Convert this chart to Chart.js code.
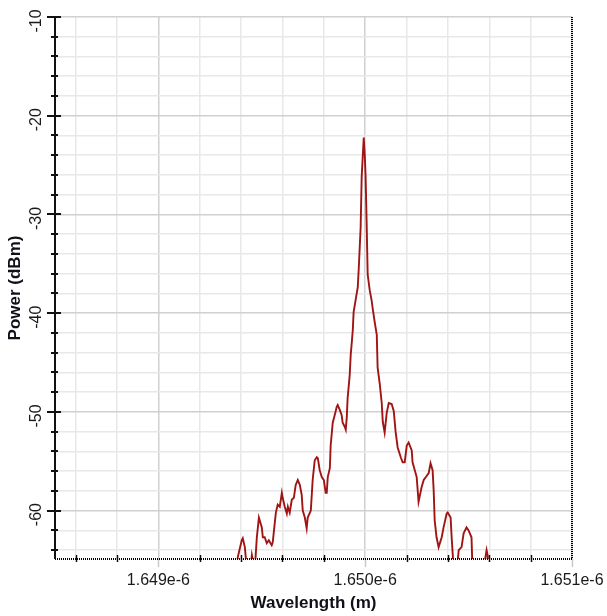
<!DOCTYPE html>
<html><head><meta charset="utf-8">
<script src="https://cdn.jsdelivr.net/npm/chart.js@4.4.1/dist/chart.umd.min.js"></script>
<style>html,body{margin:0;padding:0;background:#fff}#wrap{width:607px;height:616px}</style>
</head><body><div id="wrap"><canvas id="c" width="607" height="616"></canvas></div>
<script>
// Wavelength in nm (axis shows metres, e.g. 1.650e-6 m = 1650 nm)
const wavelengthNm = [
 1649.379,1649.384,1649.403,1649.408,1649.418,1649.428,1649.442,1649.452,1649.466,1649.476,
 1649.486,1649.500,1649.505,1649.514,1649.524,1649.534,1649.548,1649.553,1649.568,1649.577,
 1649.587,1649.597,1649.601,1649.611,1649.621,1649.626,1649.635,1649.645,1649.655,1649.664,
 1649.674,1649.684,1649.693,1649.698,1649.708,1649.717,1649.722,1649.737,1649.746,1649.756,
 1649.766,1649.771,1649.780,1649.790,1649.800,1649.809,1649.814,1649.819,1649.829,1649.833,
 1649.843,1649.853,1649.862,1649.867,1649.877,1649.886,1649.891,1649.901,1649.906,1649.911,
 1649.915,1649.925,1649.930,1649.935,1649.940,1649.944,1649.959,1649.964,1649.969,1649.978,
 1649.983,1649.993,1649.998,1650.002,1650.007,1650.012,1650.022,1650.031,1650.036,1650.046,
 1650.056,1650.060,1650.070,1650.080,1650.085,1650.094,1650.104,1650.114,1650.128,1650.138,
 1650.147,1650.157,1650.172,1650.181,1650.191,1650.201,1650.210,1650.225,1650.229,1650.249,
 1650.258,1650.273,1650.283,1650.297,1650.307,1650.316,1650.326,1650.331,1650.336,1650.345,
 1650.355,1650.370,1650.379,1650.394,1650.399,1650.413,1650.418,1650.428,1650.442,1650.452,
 1650.466,1650.476,1650.490,1650.500,1650.514,1650.519,1650.543,1650.568,1650.587,1650.592,
 1650.597
];
const powerDbm = [
 -66.0,-64.7,-63.0,-62.8,-63.7,-66.0,-66.5,-64.5,-66.0,-62.7,
 -60.7,-61.7,-62.7,-62.7,-63.3,-63.0,-63.5,-63.2,-60.2,-59.4,
 -59.6,-58.2,-58.7,-59.6,-60.3,-59.6,-60.2,-58.9,-58.7,-57.4,
 -56.9,-57.4,-58.4,-60.0,-60.7,-61.8,-60.7,-60.0,-56.9,-54.9,
 -54.6,-54.7,-55.9,-56.6,-56.9,-58.2,-58.2,-56.6,-55.7,-53.4,
 -51.1,-50.3,-49.5,-49.3,-49.8,-50.3,-51.1,-51.5,-51.8,-50.5,
 -48.6,-46.3,-44.2,-43.0,-41.7,-39.9,-38.0,-37.4,-35.4,-31.3,
 -26.2,-22.2,-24.0,-26.2,-30.9,-36.1,-37.7,-38.7,-39.5,-40.9,
 -42.2,-45.5,-47.1,-49.1,-51.0,-52.1,-50.1,-49.1,-49.2,-49.9,
 -52.0,-53.6,-54.6,-55.1,-55.1,-53.4,-53.1,-53.9,-55.1,-56.6,
 -59.1,-57.6,-56.9,-56.5,-56.2,-55.2,-55.9,-57.9,-61.0,-62.7,
 -63.7,-62.7,-61.7,-60.3,-60.2,-60.7,-62.7,-66.0,-66.5,-64.0,
 -63.7,-62.3,-61.7,-62.0,-62.7,-66.0,-66.5,-66.5,-64.0,-64.5,
 -66.5
];
const xTickValues = [1649, 1650, 1651];
const xTickLabels = ['1.649e-6', '1.650e-6', '1.651e-6'];
const xGridValues = [1648.6,1648.8,1649.0,1649.2,1649.4,1649.6,1649.8,1650.0,1650.2,1650.4,1650.6,1650.8,1651.0];
const yTickValues = [-10, -20, -30, -40, -50, -60];
const yTickLabels = ['-10', '-20', '-30', '-40', '-50', '-60'];
const yGridValues = [-64,-62,-60,-58,-56,-54,-52,-50,-48,-46,-44,-42,-40,-38,-36,-34,-32,-30,-28,-26,-24,-22,-20,-18,-16,-14,-12,-10];
const xAxisTitle = 'Wavelength (m)';
const yAxisTitle = 'Power (dBm)';
const xRange = [1648.5, 1651.0];
const yRange = [-64.9, -10];

const isMajorX = v => Math.abs(v - Math.round(v)) < 1e-6;
const isMajorY = v => v % 10 === 0;

const decor = {
  id: 'decor',
  afterDatasetsDraw(chart) {
    const { ctx, chartArea: a, scales: { x, y } } = chart;
    ctx.save();
    // x tick marks
    xGridValues.forEach(v => {
      const px = Math.round(x.getPixelForValue(v)) + 0.5;
      if (isMajorX(v)) {
        ctx.strokeStyle = '#c8c8c8'; ctx.lineWidth = 1.5;
        ctx.beginPath(); ctx.moveTo(px, a.bottom); ctx.lineTo(px, a.bottom + 8); ctx.stroke();
      } else {
        ctx.strokeStyle = '#111'; ctx.lineWidth = 1.5;
        ctx.beginPath(); ctx.moveTo(px, a.bottom - 4); ctx.lineTo(px, a.bottom + 3); ctx.stroke();
      }
    });
    // dotted right border and bottom axis
    ctx.strokeStyle = '#000'; ctx.lineWidth = 2; ctx.setLineDash([1, 1]);
    ctx.beginPath(); ctx.moveTo(a.right, a.top); ctx.lineTo(a.right, a.bottom); ctx.stroke();
    ctx.beginPath(); ctx.moveTo(a.left, a.bottom); ctx.lineTo(a.right, a.bottom); ctx.stroke();
    ctx.setLineDash([]);
    // left axis
    ctx.strokeStyle = '#111'; ctx.lineWidth = 2;
    ctx.beginPath(); ctx.moveTo(a.left, a.top); ctx.lineTo(a.left, a.bottom); ctx.stroke();
    yGridValues.forEach(v => {
      const py = Math.round(y.getPixelForValue(v));
      const maj = isMajorY(v);
      ctx.beginPath();
      ctx.moveTo(a.left - (maj ? 8 : 4), py); ctx.lineTo(a.left + (maj ? 6 : 3), py);
      ctx.stroke();
    });
    // tick labels
    ctx.fillStyle = '#1a1a1a';
    ctx.font = '16px "Liberation Sans", Arial, sans-serif';
    ctx.textAlign = 'center'; ctx.textBaseline = 'middle';
    xTickValues.forEach((v, i) => {
      ctx.fillText(xTickLabels[i], x.getPixelForValue(v), 581);
    });
    yTickValues.forEach((v, i) => {
      ctx.save();
      ctx.translate(37, y.getPixelForValue(v) + 4);
      ctx.rotate(-Math.PI / 2);
      ctx.fillText(yTickLabels[i], 0, 0);
      ctx.restore();
    });
    // axis titles
    ctx.fillStyle = '#101018';
    ctx.font = 'bold 17px "Liberation Sans", Arial, sans-serif';
    ctx.fillText(xAxisTitle, (a.left + a.right) / 2, 603);
    ctx.save();
    ctx.translate(15, (a.top + a.bottom) / 2);
    ctx.rotate(-Math.PI / 2);
    ctx.fillText(yAxisTitle, 0, 0);
    ctx.restore();
    ctx.restore();
  }
};

new Chart(document.getElementById('c'), {
  type: 'line',
  data: {
    datasets: [{
      data: wavelengthNm.map((w, i) => ({ x: w, y: powerDbm[i] })),
      borderColor: '#a01414',
      borderWidth: 1.9,
      pointRadius: 0,
      tension: 0,
      fill: false
    }]
  },
  options: {
    responsive: false,
    animation: false,
    devicePixelRatio: 1,
    layout: { padding: { left: 55, top: 17, right: 35, bottom: 57 } },
    plugins: { legend: { display: false }, tooltip: { enabled: false } },
    scales: {
      x: {
        type: 'linear', min: xRange[0], max: xRange[1],
        afterBuildTicks: s => { s.ticks = xGridValues.map(v => ({ value: v })); },
        ticks: { display: false },
        border: { display: false },
        grid: {
          drawTicks: false, lineWidth: 1.5,
          color: c => (c.tick && isMajorX(c.tick.value)) ? '#d0d0d0' : '#e8e8e8'
        }
      },
      y: {
        type: 'linear', min: yRange[0], max: yRange[1],
        afterBuildTicks: s => { s.ticks = yGridValues.map(v => ({ value: v })); },
        ticks: { display: false },
        border: { display: false },
        grid: {
          drawTicks: false, lineWidth: 1.5,
          color: c => (c.tick && isMajorY(c.tick.value)) ? '#d0d0d0' : '#e8e8e8'
        }
      }
    }
  },
  plugins: [decor]
});
</script>
</body></html>
